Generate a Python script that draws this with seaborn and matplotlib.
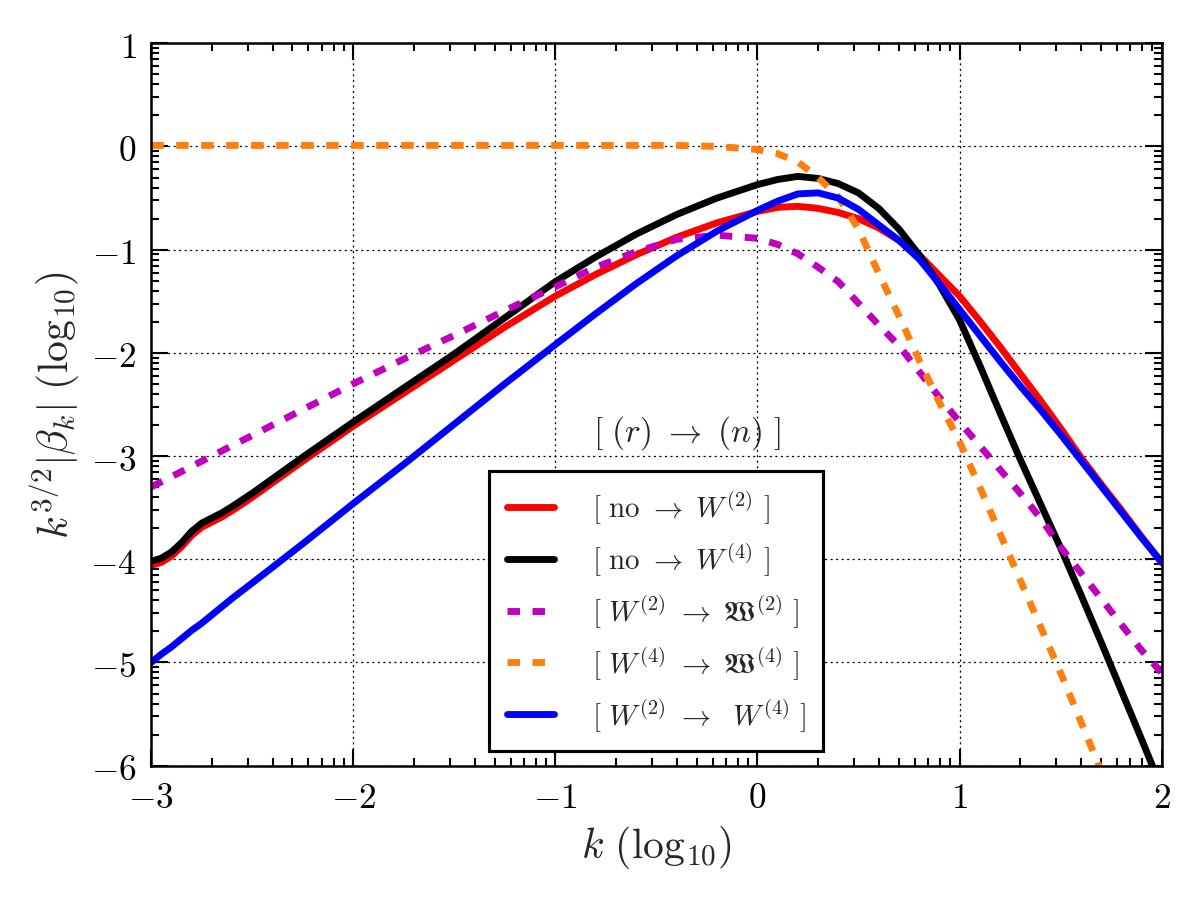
import numpy as np
import pandas as pd
import matplotlib
matplotlib.use("Agg")
import matplotlib.pyplot as plt
import seaborn as sns
from matplotlib.ticker import FixedLocator, FuncFormatter

# k (log10) sample points
k_log = [-3.0, -2.95, -2.9, -2.85, -2.8, -2.75, -2.7, -2.65, -2.6, -2.5, -2.25,
         -2.0, -1.75, -1.5, -1.25, -1.0, -0.8, -0.6, -0.4, -0.2, 0.0, 0.1, 0.2,
         0.3, 0.4, 0.5, 0.6, 0.7, 0.8, 0.9, 1.0, 1.1, 1.2, 1.3, 1.4, 1.5, 1.6,
         1.7, 1.8, 1.9, 2.0]

# k^{3/2}|beta_k| (log10) for each transition
no_W2 = [-4.06, -4.03, -3.97, -3.88, -3.77, -3.69, -3.64, -3.59, -3.53, -3.40, -3.05,
         -2.71, -2.39, -2.07, -1.75, -1.45, -1.24, -1.05, -0.88, -0.74, -0.63, -0.59, -0.58,
         -0.60, -0.64, -0.70, -0.79, -0.91, -1.05, -1.25, -1.45, -1.69, -1.94, -2.20, -2.46, -2.73, -3.01,
         -3.27, -3.52, -3.78, -4.03]
no_W4 = [-4.02, -3.99, -3.93, -3.84, -3.73, -3.65, -3.60, -3.55, -3.49, -3.36, -3.01,
         -2.67, -2.34, -2.01, -1.66, -1.31, -1.07, -0.85, -0.66, -0.50, -0.37, -0.32, -0.29,
         -0.31, -0.36, -0.45, -0.60, -0.80, -1.05, -1.34, -1.68, -2.12, -2.58, -3.03, -3.46, -3.89, -4.34,
         -4.80, -5.27, -5.74, -6.22]
W2_fW2 = [-3.30, -3.25, -3.20, -3.15, -3.10, -3.05, -3.00, -2.95, -2.90, -2.80, -2.55,
          -2.30, -2.06, -1.83, -1.59, -1.36, -1.17, -1.02, -0.90, -0.86, -0.89, -0.95, -1.04,
          -1.17, -1.31, -1.52, -1.73, -1.93, -2.18, -2.43, -2.67, -2.90, -3.13, -3.36, -3.60, -3.88, -4.13,
          -4.38, -4.63, -4.88, -5.10]
W4_fW4 = [0.01, 0.01, 0.01, 0.01, 0.01, 0.01, 0.01, 0.01, 0.01, 0.01, 0.01,
          0.01, 0.01, 0.01, 0.01, 0.01, 0.01, 0.01, 0.01, 0.0, -0.03, -0.07, -0.15,
          -0.30, -0.49, -0.80, -1.23, -1.64, -2.07, -2.48, -2.86, -3.30, -3.75, -4.20, -4.65, -5.10, -5.57,
          -6.05, -6.55, -7.05, -7.55]
W2_W4 = [-5.00, -4.92, -4.85, -4.77, -4.69, -4.62, -4.54, -4.46, -4.38, -4.23, -3.85,
         -3.46, -3.08, -2.69, -2.30, -1.92, -1.62, -1.33, -1.06, -0.82, -0.62, -0.53, -0.46,
         -0.45, -0.50, -0.61, -0.76, -0.91, -1.09, -1.33, -1.58, -1.83, -2.08, -2.32, -2.55, -2.79, -3.04,
         -3.29, -3.54, -3.79, -4.03]

series = [
    (no_W2, r'$[\ \mathrm{no}\ \rightarrow\ W^{(2)}\ ]$', 'r', '-'),
    (no_W4, r'$[\ \mathrm{no}\ \rightarrow\ W^{(4)}\ ]$', 'k', '-'),
    (W2_fW2, r'$[\ W^{(2)}\ \rightarrow\ \mathfrak{W}^{(2)}\ ]$', '#bf00bf', '--'),
    (W4_fW4, r'$[\ W^{(4)}\ \rightarrow\ \mathfrak{W}^{(4)}\ ]$', '#ff7f0e', '--'),
    (W2_W4, r'$[\ W^{(2)}\ \rightarrow\ \ W^{(4)}\ ]$', 'b', '-'),
]

sns.set_style("ticks")
plt.rcParams['mathtext.fontset'] = 'cm'
plt.rcParams['font.family'] = ['DejaVu Serif']
plt.rcParams['lines.scale_dashes'] = False
plt.rcParams['lines.dashed_pattern'] = [6, 6]

fig = plt.figure(figsize=(8, 6.02), dpi=150)
ax = fig.add_axes([0.126, 0.151, 0.842, 0.8])

for vals, lab, col, ls in series:
    df = pd.DataFrame({'k': k_log, 'v': vals})
    sns.lineplot(data=df, x='k', y='v', color=col, linestyle=ls, lw=3.3,
                 label=lab, ax=ax)

ax.set_xlim(-3, 2)
ax.set_ylim(-6, 1)
ax.set_xticks(range(-3, 3))
ax.set_yticks(range(-6, 2))
sub = np.log10(np.arange(2, 10))
ax.xaxis.set_minor_locator(FixedLocator(np.concatenate([n + sub for n in range(-3, 2)])))
ax.yaxis.set_minor_locator(FixedLocator(np.concatenate([n + sub for n in range(-6, 1)])))
fmt = FuncFormatter(lambda v, p: r'$%d$' % round(v))
ax.xaxis.set_major_formatter(fmt)
ax.yaxis.set_major_formatter(fmt)
ax.tick_params(which='both', direction='in', top=True, right=True, colors='k',
               labelsize=17, pad=7)
ax.tick_params(which='major', length=8, width=1)
ax.tick_params(which='minor', length=4, width=1)
for s in ax.spines.values():
    s.set_color('k')
    s.set_linewidth(1.2)

ax.grid(True, which='major', color='k', linestyle=':', linewidth=0.6)

ax.set_xlabel(r'$k\ (\mathrm{log}_{10})$', fontsize=20)
ax.set_ylabel(r'$k^{3/2}|\beta_k|\ (\mathrm{log}_{10})$', fontsize=20)

ax.text(-0.35, -2.77, r'$[\ (r)\ \rightarrow\ (n)\ ]$', fontsize=16,
        ha='center', va='center')

leg = ax.legend(loc='lower center', fontsize=14, fancybox=False,
                framealpha=1, edgecolor='k', labelspacing=0.5,
                handlelength=1.6, handletextpad=1.3, borderpad=0.6)
leg.get_frame().set_linewidth(1.5)

fig.savefig('out.png', dpi=150)
